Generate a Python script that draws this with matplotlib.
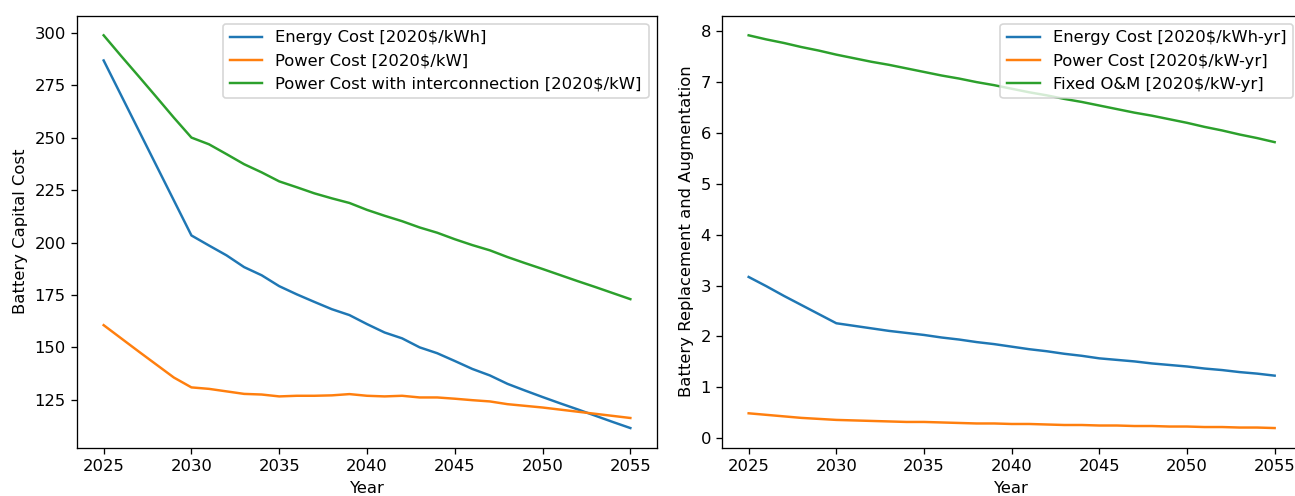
import matplotlib
matplotlib.use("Agg")
import matplotlib.pyplot as plt

years = list(range(2025, 2056))

# Left panel: Battery capital cost
energy_cost = [286.9, 270.2, 253.5, 236.8, 220.1, 203.4, 198.6, 193.9, 188.3, 184.4,
               179.2, 175.3, 171.7, 168.2, 165.4, 161.1, 157.1, 154.3, 150.0, 147.2,
               143.5, 139.7, 136.6, 132.6, 129.4, 126.3, 123.3, 120.4, 117.4, 114.4, 111.5]
power_cost = [160.6, 154.3, 148.0, 141.8, 135.6, 130.9, 130.2, 129.0, 127.8, 127.5,
              126.6, 126.9, 126.9, 127.1, 127.7, 126.9, 126.6, 126.9, 126.1, 126.1,
              125.5, 124.8, 124.2, 122.9, 122.1, 121.3, 120.3, 119.3, 118.3, 117.3, 116.3]
power_cost_ic = [298.9, 289.0, 279.3, 269.5, 259.6, 250.1, 246.9, 242.2, 237.4, 233.5,
                 229.2, 226.4, 223.5, 221.1, 218.9, 215.6, 212.8, 210.2, 207.2, 204.7,
                 201.6, 198.8, 196.3, 193.1, 190.2, 187.4, 184.5, 181.6, 178.8, 175.9, 173.0]

# Right panel: replacement and augmentation / O&M
energy_ra = [3.17, 2.99, 2.80, 2.62, 2.44, 2.26, 2.21, 2.16, 2.11, 2.07,
             2.03, 1.98, 1.94, 1.89, 1.85, 1.80, 1.75, 1.71, 1.66, 1.62,
             1.57, 1.54, 1.51, 1.47, 1.44, 1.41, 1.37, 1.34, 1.30, 1.27, 1.23]
power_ra = [0.49, 0.46, 0.43, 0.40, 0.38, 0.36, 0.35, 0.34, 0.33, 0.32,
            0.32, 0.31, 0.30, 0.29, 0.29, 0.28, 0.28, 0.27, 0.26, 0.26,
            0.25, 0.25, 0.24, 0.24, 0.23, 0.23, 0.22, 0.22, 0.21, 0.21, 0.20]
fixed_om = [7.92, 7.84, 7.77, 7.69, 7.62, 7.54, 7.47, 7.40, 7.34, 7.27,
            7.20, 7.13, 7.07, 7.00, 6.94, 6.87, 6.80, 6.74, 6.67, 6.61,
            6.54, 6.47, 6.40, 6.34, 6.27, 6.20, 6.12, 6.05, 5.97, 5.90, 5.82]

left_labels = ["Energy Cost [2020$/kWh]", "Power Cost [2020$/kW]",
               "Power Cost with interconnection [2020$/kW]"]
right_labels = ["Energy Cost [2020$/kWh-yr]", "Power Cost [2020$/kW-yr]",
                "Fixed O&M [2020$/kW-yr]"]
xticks = [2025, 2030, 2035, 2040, 2045, 2050, 2055]

DPI = 117.7
fig = plt.figure(figsize=(1295 / DPI, 496 / DPI), dpi=DPI)
ax1 = fig.add_axes([0.0597, 0.0974, 0.4474, 0.871])
ax2 = fig.add_axes([0.5578, 0.0974, 0.4468, 0.871])

ax1.plot(years, energy_cost, color="C0", label=left_labels[0])
ax1.plot(years, power_cost, color="C1", label=left_labels[1])
ax1.plot(years, power_cost_ic, color="C2", label=left_labels[2])
ax1.set_xlabel("Year")
ax1.set_ylabel("Battery Capital Cost")
ax1.set_xticks(xticks)
ax1.legend(loc="upper right")

ax2.plot(years, energy_ra, color="C0", label=right_labels[0])
ax2.plot(years, power_ra, color="C1", label=right_labels[1])
ax2.plot(years, fixed_om, color="C2", label=right_labels[2])
ax2.set_xlabel("Year")
ax2.set_ylabel("Battery Replacement and Augmentation")
ax2.set_xticks(xticks)
ax2.legend(loc="upper right")

fig.savefig("out.png", dpi=DPI)
